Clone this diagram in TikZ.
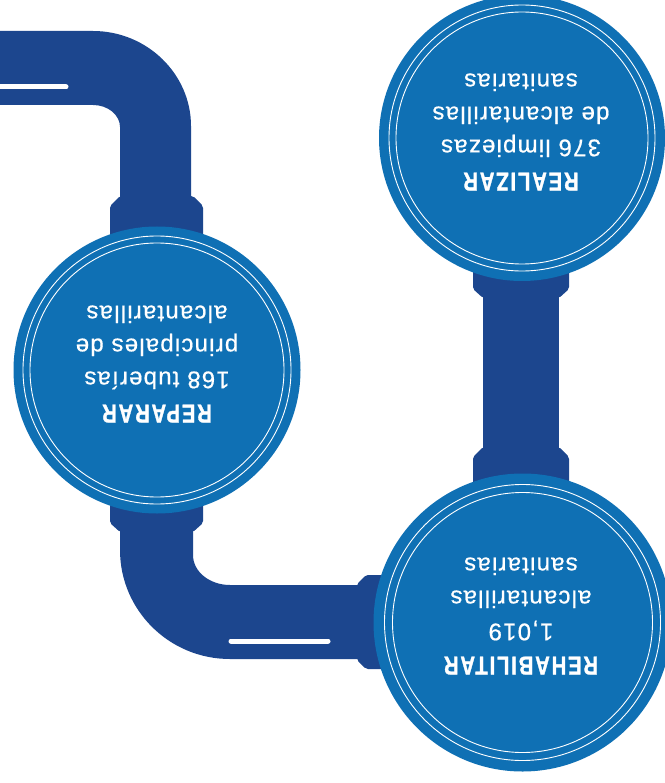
\documentclass[tikz,border=0pt]{standalone}
\usepackage{fontspec}
\usepackage{xcolor}
\usepackage{tikz}
\usetikzlibrary{positioning,calc}
\setmainfont{Liberation Sans}
\newfontfamily\bodyfont[LetterSpace=5,FakeBold=0.6]{Liberation Sans}
\newfontfamily\headfont[FakeStretch=0.78,LetterSpace=7,FakeBold=1.2]{Liberation Sans}
\definecolor{pipeblue}{RGB}{28,70,142}
\definecolor{discblue}{RGB}{15,112,180}
\tikzset{
  pipe/.style   = {fill=pipeblue},
  collar/.style = {fill=pipeblue, rounded corners=2pt},
  disc/.style   = {circle, fill=discblue, inner sep=0pt},
  ring/.style   = {draw=white, line width=0.9pt},
  shine/.style  = {draw=white, line width=5pt, line cap=round},
  label/.style  = {text=white, align=center, rotate=180, inner sep=0pt,
                   font=\bodyfont\fontsize{24}{33}\selectfont}
}
\newcommand{\headline}[1]{{\headfont\bfseries\fontsize{26}{33}\selectfont #1}}

\begin{document}
\begin{tikzpicture}[x=1pt,y=-1pt]
  \fill[white] (0,0) rectangle (664,783);
  \useasboundingbox (0,0) rectangle (664,783);
  % pipes
  \fill[pipe] (-2,31) -- (93,31) .. controls (147,31) and (191,74) .. (191,126)
              -- (191,215) -- (120,215) -- (120,127)
              .. controls (120,115) and (108,105) .. (93,105) -- (-2,105) -- cycle;
  \fill[pipe] (120,520) -- (120,550) .. controls (120,610) and (169,659) .. (230,659)
              -- (380,659) -- (380,585) -- (230,585)
              .. controls (210,585) and (193,572) .. (193,555) -- (193,520) -- cycle;
  \fill[pipe] (483,280) rectangle (559,465);
  \draw[shine] (-4,87) -- (66,87);
  \draw[shine] (231,641) -- (328,641);
  % collars
  \fill[collar] (120,196) -- (110,206) -- (110,260) -- (203,260) -- (203,206) -- (193,196) -- cycle;
  \fill[collar] (110,480) -- (110,523) -- (120,532) -- (193,532) -- (203,523) -- (203,480) -- cycle;
  \fill[collar] (420,575) -- (366,575) -- (357,584) -- (357,660) -- (366,669) -- (420,669) -- cycle;
  \fill[collar] (473,240) -- (473,289) -- (483,298) -- (559,298) -- (569,289) -- (569,240) -- cycle;
  \fill[collar] (473,520) -- (473,457) -- (483,447) -- (559,447) -- (569,457) -- (569,520) -- cycle;
  % discs
  \node[disc, minimum size=287pt] (reparar) at (157,370) {};
  \node[disc, minimum size=286pt] (realizar) at (522,138) {};
  \node[disc, minimum size=298pt] (rehabilitar) at (522.5,622.5) {};
  \foreach \n/\ra/\rb in {reparar/134/127, realizar/133/126, rehabilitar/138/130}{
    \draw[ring] (\n.center) circle[radius=\ra];
    \draw[ring] (\n.center) circle[radius=\rb];
  }
  \node[label] (reparartxt) at (157,364)
    {\headline{REPARAR}\\168 tuberías\\principales de\\alcantarillas};
  \node[label] (realizartxt) at (521,132)
    {\headline{REALIZAR}\\376 limpiezas\\de alcantarillas\\sanitarias};
  \node[label] (rehabilitartxt) at (521,616)
    {\headline{REHABILITAR}\\1,019\\alcantarillas\\sanitarias};
\end{tikzpicture}
\end{document}
